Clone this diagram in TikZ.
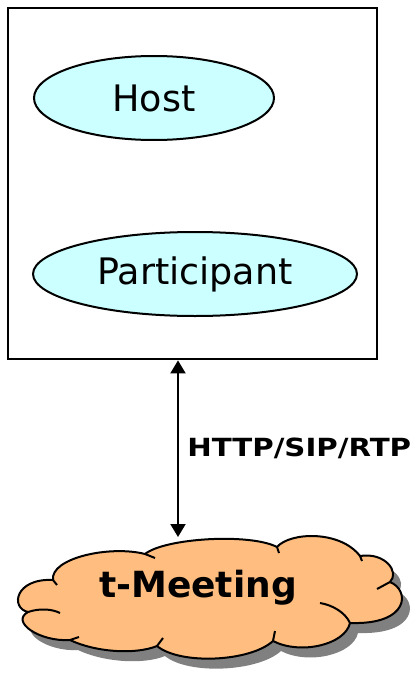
\documentclass[tikz,border=0pt]{standalone}
\usepackage{fontspec}
\setmainfont{DejaVu Sans}
\newfontfamily\protofont[FakeStretch=1.17]{DejaVu Sans Bold}
\usepackage{tikz}
\usetikzlibrary{arrows.meta,shapes.geometric,positioning}

\definecolor{rolefill}{RGB}{204,255,255}
\definecolor{cloudfill}{RGB}{255,190,128}
\definecolor{shadowgray}{RGB}{128,128,128}

% outline of the t-Meeting cloud (clockwise, puff by puff)
\newcommand{\cloudoutline}{%
	(28,612) .. controls (10,608) and (15,578) .. (53,580)
	.. controls (50,558) and (110,545) .. (145,554)
	.. controls (165,538) and (250,533) .. (277,547)
	.. controls (290,532) and (340,530) .. (360,556)
	.. controls (385,552) and (400,572) .. (390,582)
	.. controls (410,590) and (410,625) .. (350,623)
	.. controls (345,645) and (300,655) .. (273,641)
	.. controls (250,662) and (180,665) .. (157,646)
	.. controls (135,655) and (95,652) .. (70,640)
	.. controls (40,642) and (10,622) .. cycle}

\tikzset{
	role/.style={draw, ellipse, line width=2pt, fill=rolefill, inner sep=0pt,
		font=\fontsize{36.5}{42}\selectfont},
	link/.style={<->, line width=2pt},
	puff/.style={line width=2pt},
}

\begin{document}
\begin{tikzpicture}[x=1pt, y=-1pt, >={Triangle[length=13pt,width=15pt]}]
	\useasboundingbox (0,0) rectangle (413,677);

	% client side
	\node[draw, line width=2.8pt, minimum width=369pt, minimum height=351pt] (client) at (192.5,183.5) {};
	\node[role, minimum width=240pt, minimum height=84pt] (host) at (154,98) {Host};
	\node[role, minimum width=324pt, minimum height=84pt] (participant) at (195,274) {Participant};

	% t-Meeting cloud with its shadow
	\begin{scope}[shift={(8,10)}]
		\fill[shadowgray] \cloudoutline;
	\end{scope}
	\filldraw[puff, fill=cloudfill] \cloudoutline;
	\draw[puff] (28,612) .. controls (40,608) and (52,609) .. (60,613);
	\draw[puff] (53,580) -- (57,585);
	\draw[puff] (145,554) -- (155,558);
	\draw[puff] (277,547) -- (279,553);
	\draw[puff] (360,556) -- (362,561);
	\draw[puff] (390,582) -- (377,589);
	\draw[puff] (350,623) .. controls (345,612) and (332,605) .. (320,603);
	\draw[puff] (273,641) -- (275,631);
	\draw[puff] (157,646) -- (163,638);
	\draw[puff] (70,640) -- (79,637);
	\node[font=\bfseries\fontsize{36}{40}\selectfont] (meeting) at (198,588) {t-Meeting};

	% connection
	\coordinate (cloudtop) at (178,537);
	\draw[link] (client.south -| cloudtop) -- node[right=5pt, font=\protofont\fontsize{25}{30}\selectfont] {HTTP/SIP/RTP} (cloudtop);
\end{tikzpicture}
\end{document}
